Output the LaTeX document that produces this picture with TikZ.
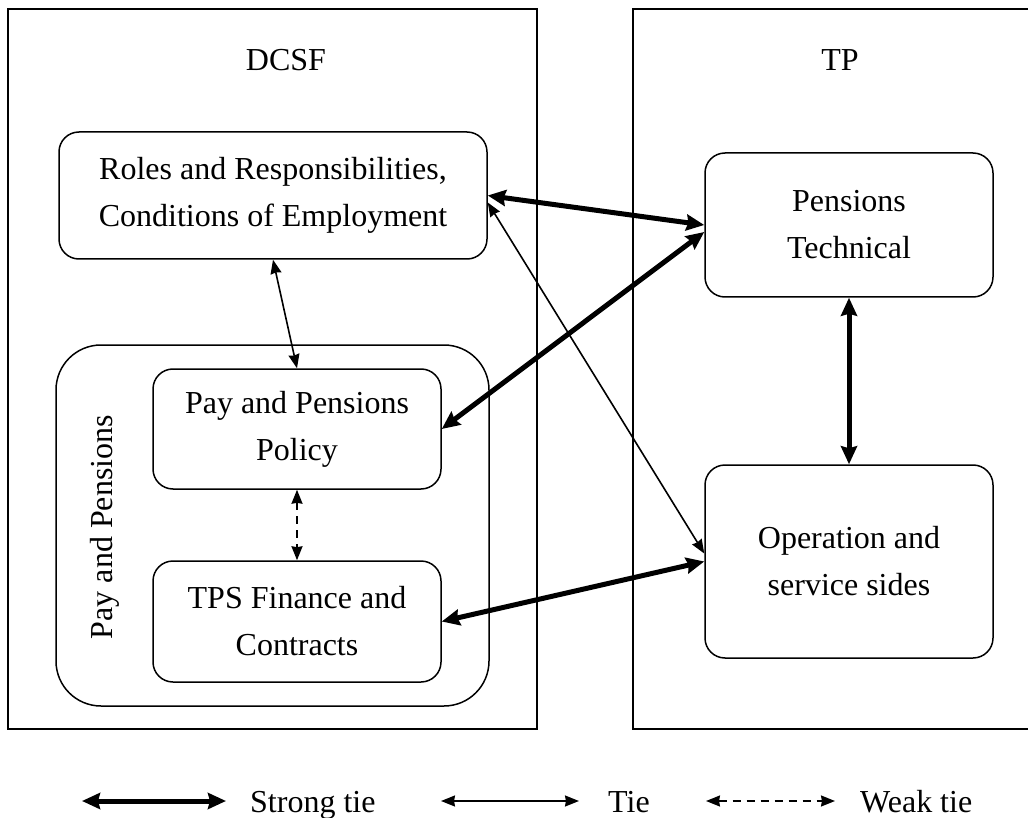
\documentclass[tikz,border=0pt]{standalone}
\usepackage{fontspec}
\setmainfont{Liberation Serif}
\usetikzlibrary{arrows.meta}
\tikzset{
  unit/.style={
    rectangle, rounded corners=20pt,
    draw=black, line width=1.5pt,
    align=center, inner sep=0pt
  },
  group/.style={rectangle, draw=black, line width=1.5pt},
  strongtie/.style={<->, line width=5pt, >={Stealth[length=18pt,width=16pt,inset=2pt]}},
  tie/.style={<->, line width=1.6pt, >={Stealth[length=14pt,width=11pt,inset=1pt]}},
  weaktie/.style={tie, dash pattern=on 8pt off 6pt}
}

\begin{document}
\begin{tikzpicture}[x=1pt, y=-1pt, font=\fontsize{32}{47}\selectfont]
          \useasboundingbox (0,0) rectangle (1028,818);
          \clip (0,0) rectangle (1028,818);
          \node[group, minimum width=529pt, minimum height=720pt] (dcsf) at (272.5,369) {};
          \node[group, minimum width=407pt, minimum height=720pt] (tp) at (836.5,369) {};
          \node (dcsflabel) at (286,60) {DCSF};
          \node (tplabel) at (840,60) {TP};

          \node[unit, rounded corners=45pt, minimum width=433pt, minimum height=361pt] (pp) at (272.5,525.5) {};
          \node[rotate=90] (pplabel) at (105,527) {Pay and Pensions};

          \node[unit, minimum width=428pt, minimum height=127pt] (roles) at (273,195.5) {Roles and Responsibilities,\\Conditions of Employment};
          \node[unit, minimum width=288pt, minimum height=120pt] (policy) at (297,429) {Pay and Pensions\\Policy};
          \node[unit, minimum width=288pt, minimum height=121pt] (finance) at (297,621.5) {TPS Finance and\\Contracts};
          \node[unit, minimum width=288pt, minimum height=144pt] (technical) at (849,225) {Pensions\\Technical};
          \node[unit, minimum width=288pt, minimum height=193pt] (operation) at (849,561.5) {Operation and\\service sides};

          \draw[strongtie] (roles.east) -- (technical.west);
          \draw[strongtie] (policy.east) -- ([yshift=-7pt]technical.west);
          \draw[strongtie] (finance.east) -- (operation.west);
          \draw[strongtie] (technical.south) -- (operation.north);
          \draw[tie] ([yshift=-7pt]roles.east) -- ([yshift=8pt]operation.west);
          \draw[tie] (roles.south) -- (policy.north);
          \draw[weaktie] (policy.south) -- (finance.north);

          % legend
          \coordinate (strongA) at (82,801);
          \coordinate (strongB) at (226,801);
          \coordinate (tieA) at (441,801);
          \coordinate (tieB) at (579,801);
          \coordinate (weakA) at (706,801);
          \coordinate (weakB) at (835,801);
          \draw[strongtie] (strongA) -- (strongB);
          \draw[tie] (tieA) -- (tieB);
          \draw[weaktie] (weakA) -- (weakB);
          \node[anchor=base west, inner sep=0pt] (strongtext) at (250,812) {Strong tie};
          \node[anchor=base west, inner sep=0pt] (tietext) at (608,812) {Tie};
          \node[anchor=base west, inner sep=0pt] (weaktext) at (860,812) {Weak tie};
        \end{tikzpicture}
\end{document}
